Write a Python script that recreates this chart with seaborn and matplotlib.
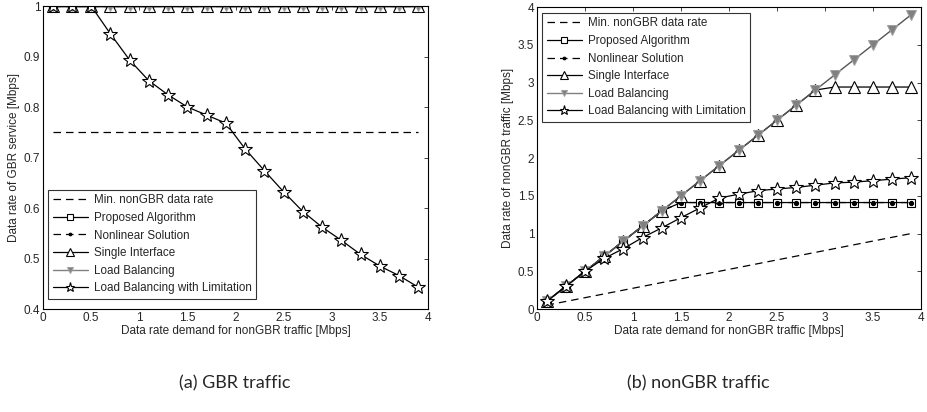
import numpy as np
import pandas as pd
import matplotlib
matplotlib.use("Agg")
import matplotlib.pyplot as plt
import seaborn as sns

# demand for nonGBR traffic [Mbps]
demand = [0.1, 0.3, 0.5, 0.7, 0.9, 1.1, 1.3, 1.5, 1.7, 1.9,
          2.1, 2.3, 2.5, 2.7, 2.9, 3.1, 3.3, 3.5, 3.7, 3.9]

# (a) GBR service rate
gbr_min_x = [0.1, 3.9]
gbr_min_y = [0.75, 0.75]
gbr_proposed = [1.0] * 20
gbr_nonlinear = [1.0] * 20
gbr_single = [1.0] * 20
gbr_lb = [1.0] * 20
gbr_lbl = [1.0, 1.0, 1.0, 0.945, 0.893, 0.852, 0.824, 0.800, 0.784, 0.768,
           0.717, 0.674, 0.632, 0.593, 0.562, 0.536, 0.508, 0.485, 0.466, 0.443]

# (b) nonGBR traffic rate
ngbr_min_x = [0.1, 3.9]
ngbr_min_y = [0.05, 1.0]
ngbr_proposed = [0.1, 0.3, 0.5, 0.7, 0.9, 1.1, 1.3, 1.41, 1.41, 1.41,
                 1.41, 1.41, 1.41, 1.41, 1.41, 1.41, 1.41, 1.41, 1.41, 1.41]
ngbr_nonlinear = [0.1, 0.3, 0.5, 0.7, 0.9, 1.1, 1.3, 1.41, 1.41, 1.41,
                  1.41, 1.41, 1.41, 1.41, 1.41, 1.41, 1.41, 1.41, 1.41, 1.41]
ngbr_single = [0.1, 0.3, 0.5, 0.7, 0.9, 1.1, 1.3, 1.5, 1.7, 1.9,
               2.1, 2.3, 2.5, 2.7, 2.9, 2.94, 2.94, 2.94, 2.94, 2.94]
ngbr_lb = [0.1, 0.3, 0.5, 0.7, 0.9, 1.1, 1.3, 1.5, 1.7, 1.9,
           2.1, 2.3, 2.5, 2.7, 2.9, 3.1, 3.3, 3.5, 3.7, 3.9]
ngbr_lbl = [0.1, 0.3, 0.5, 0.67, 0.80, 0.947, 1.075, 1.21, 1.34, 1.47,
            1.52, 1.566, 1.59, 1.61, 1.64, 1.67, 1.68, 1.70, 1.72, 1.74]

labels = ["Min. nonGBR data rate", "Proposed Algorithm", "Nonlinear Solution",
          "Single Interface", "Load Balancing", "Load Balancing with Limitation"]

sns.set_style("white")
plt.rcParams['font.family'] = ['Liberation Sans', 'DejaVu Sans']
plt.rcParams['xtick.direction'] = 'in'
plt.rcParams['ytick.direction'] = 'in'


def draw(ax, min_x, min_y, series):
    grey = '#808080'
    sns.lineplot(x=min_x, y=min_y, ax=ax, color='k', linestyle=(0, (6, 4)),
                 linewidth=0.9, label=labels[0])
    sns.lineplot(x=demand, y=series[0], ax=ax, color='k', linewidth=0.9,
                 marker='s', markersize=6, markerfacecolor='white',
                 markeredgecolor='k', markeredgewidth=0.8, label=labels[1])
    sns.lineplot(x=demand, y=series[1], ax=ax, color='k', linestyle=(0, (6, 4)),
                 linewidth=0.9, marker='o', markersize=3, markerfacecolor='k',
                 markeredgecolor='k', label=labels[2])
    sns.lineplot(x=demand, y=series[2], ax=ax, color='k', linewidth=0.9,
                 marker='^', markersize=8, markerfacecolor='white',
                 markeredgecolor='k', markeredgewidth=0.8, label=labels[3])
    sns.lineplot(x=demand, y=series[3], ax=ax, color='#555555', linewidth=1.0,
                 marker='v', markersize=7, markerfacecolor=grey,
                 markeredgecolor='#a0a0a0', label=labels[4])
    sns.lineplot(x=demand, y=series[4], ax=ax, color='k', linewidth=0.9,
                 marker='*', markersize=10, markerfacecolor='white',
                 markeredgecolor='k', markeredgewidth=0.8, label=labels[5])
    ax.set_xlim(0, 4)
    ax.set_xticks(np.arange(0, 4.01, 0.5))
    ax.set_xticklabels(['0', '0.5', '1', '1.5', '2', '2.5', '3', '3.5', '4'])
    ax.tick_params(labelsize=8.5, top=True, right=True, length=3, width=0.6, pad=2)
    for s in ax.spines.values():
        s.set_color('k')
        s.set_linewidth(0.8)
    ax.set_xlabel("Data rate demand for nonGBR traffic [Mbps]", fontsize=8.5, labelpad=1)


def legend(ax, loc, anchor):
    leg = ax.legend(loc=loc, bbox_to_anchor=anchor, borderaxespad=0, fontsize=8.4,
                    frameon=True, fancybox=False, edgecolor='k', handlelength=3.0,
                    labelspacing=0.48, borderpad=0.4, handletextpad=0.5, markerscale=0.65)
    leg.get_frame().set_linewidth(0.8)
    for h in leg.get_lines():
        if h.get_color() == '#555555':
            h.set_color('#808080')


fig = plt.figure(figsize=(9.27, 4.12), dpi=100)
ax1 = fig.add_axes([0.0464, 0.25, 0.4153, 0.7354])
ax2 = fig.add_axes([0.5793, 0.25, 0.4142, 0.733])

draw(ax1, gbr_min_x, gbr_min_y, [gbr_proposed, gbr_nonlinear, gbr_single, gbr_lb, gbr_lbl])
ax1.set_ylim(0.4, 1.0)
ax1.set_yticks(np.arange(0.4, 1.01, 0.1))
ax1.set_yticklabels(['0.4', '0.5', '0.6', '0.7', '0.8', '0.9', '1'])
ax1.set_ylabel("Data rate of GBR service [Mbps]", fontsize=8.5, labelpad=3)
legend(ax1, 'lower left', (0.013, 0.033))

draw(ax2, ngbr_min_x, ngbr_min_y, [ngbr_proposed, ngbr_nonlinear, ngbr_single, ngbr_lb, ngbr_lbl])
ax2.set_ylim(0, 4)
ax2.set_yticks(np.arange(0, 4.01, 0.5))
ax2.set_yticklabels(['0', '0.5', '1', '1.5', '2', '2.5', '3', '3.5', '4'])
ax2.set_ylabel("Data rate of nonGBR traffic [Mbps]", fontsize=8.5, labelpad=3)
legend(ax2, 'upper left', (0.013, 0.981))

fig.text(0.2535, 0.07, "(a) GBR traffic", ha='center', va='center',
         fontsize=13, family=['Lato', 'DejaVu Sans'])
fig.text(0.753, 0.07, "(b) nonGBR traffic", ha='center', va='center',
         fontsize=13, family=['Lato', 'DejaVu Sans'])

fig.savefig("out.png", dpi=100)
